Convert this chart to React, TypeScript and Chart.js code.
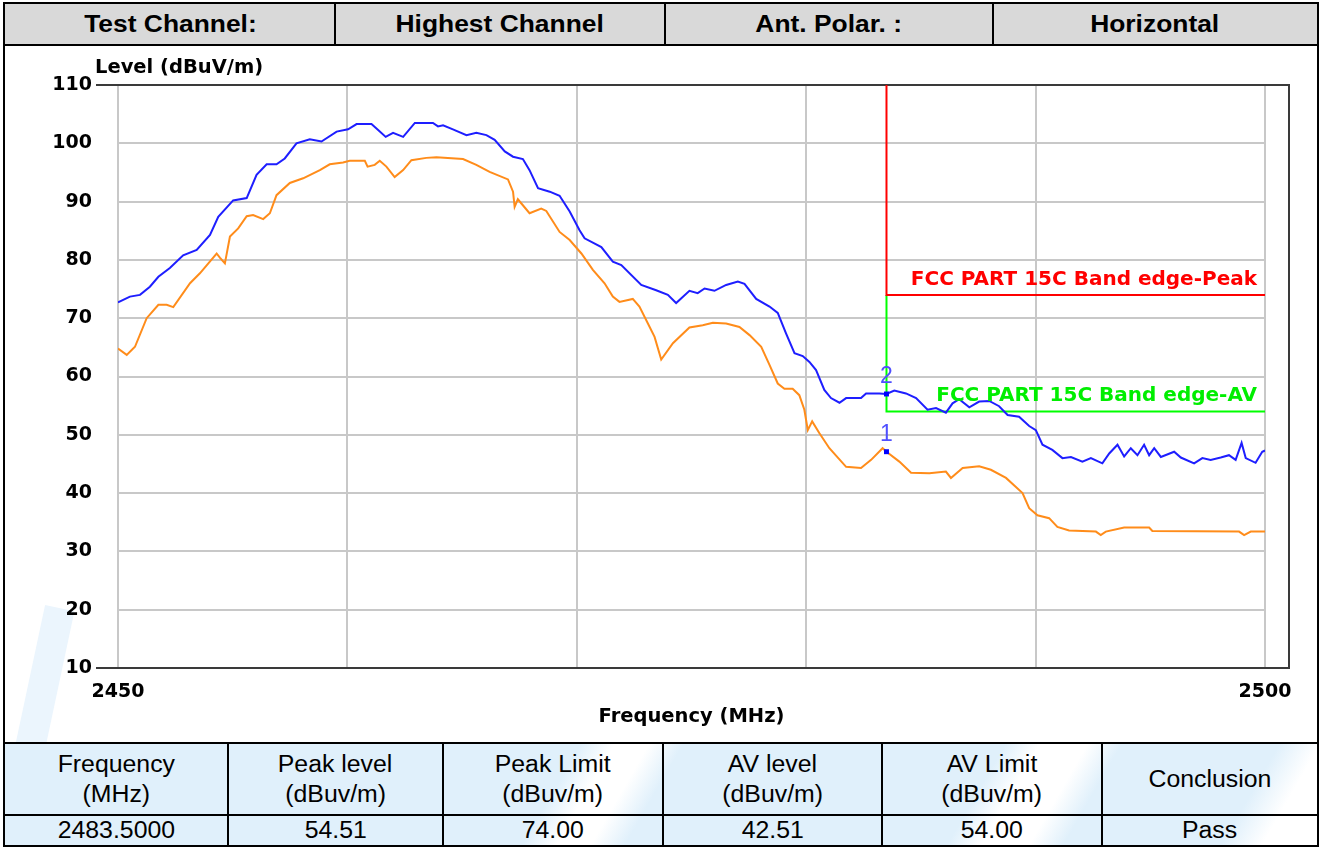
import React, { useEffect, useRef } from 'react';
import { Chart, registerables } from 'chart.js';

Chart.register(...registerables);

// ---------- header / result table ----------
const headerCells = ['Test Channel:', 'Highest Channel', 'Ant. Polar. :', 'Horizontal'];
const resultHeaders = [
  ['Frequency', '(MHz)'],
  ['Peak level', '(dBuv/m)'],
  ['Peak Limit', '(dBuv/m)'],
  ['AV level', '(dBuv/m)'],
  ['AV Limit', '(dBuv/m)'],
  ['Conclusion'],
];
const resultValues = ['2483.5000', '54.51', '74.00', '42.51', '54.00', 'Pass'];

// ---------- chart data ----------
const peakFreq = [
  2450.0, 2450.52, 2450.96, 2451.39, 2451.76, 2452.26, 2452.84, 2453.43, 2454.01, 2454.37,
  2455.02, 2455.61, 2456.04, 2456.48, 2456.91, 2457.27, 2457.78, 2458.36, 2458.87, 2459.53,
  2460.03, 2460.4, 2461.05, 2461.34, 2461.67, 2461.99, 2462.43, 2462.94, 2463.73, 2463.95,
  2464.17, 2464.6, 2465.19, 2465.62, 2466.06, 2466.42, 2466.86, 2467.22, 2467.65, 2467.94,
  2468.31, 2468.82, 2469.25, 2469.69, 2470.12, 2470.34, 2471.07, 2471.57, 2471.94, 2472.81,
  2473.46, 2473.97, 2474.33, 2474.91, 2475.27, 2475.57, 2476.0, 2476.51, 2477.02, 2477.31,
  2477.82, 2478.4, 2478.76, 2479.12, 2479.49, 2479.85, 2480.14, 2480.43, 2480.79, 2481.08,
  2481.45, 2481.74, 2482.39, 2482.61, 2483.19, 2483.5, 2483.84, 2484.35, 2484.79, 2485.29,
  2485.66, 2486.09, 2486.38, 2486.67, 2487.11, 2487.54, 2487.98, 2488.41, 2488.78, 2489.28,
  2489.72, 2490.01, 2490.3, 2490.73, 2491.17, 2491.54, 2492.04, 2492.41, 2492.91, 2493.21,
  2493.57, 2493.86, 2494.15, 2494.44, 2494.73, 2494.95, 2495.17, 2495.46, 2496.04, 2496.33,
  2496.91, 2497.27, 2497.63, 2498.07, 2498.43, 2498.72, 2498.98, 2499.16, 2499.59, 2499.88,
  2500.0,
];
const peakLevel = [
  72.7, 73.7, 74.0, 75.4, 77.1, 78.6, 80.8, 81.7, 84.3, 87.4,
  90.2, 90.6, 94.6, 96.4, 96.4, 97.4, 100.0, 100.7, 100.3, 102.0,
  102.4, 103.3, 103.3, 102.3, 101.1, 101.8, 101.1, 103.5, 103.5, 102.9,
  103.1, 102.4, 101.4, 101.8, 101.4, 100.6, 98.6, 97.7, 97.3, 95.4,
  92.3, 91.7, 91.0, 88.3, 85.1, 83.7, 82.2, 79.7, 79.1, 75.7,
  74.8, 74.0, 72.6, 74.7, 74.3, 75.1, 74.7, 75.7, 76.3, 75.9,
  73.3, 72.0, 70.9, 67.4, 64.0, 63.5, 62.5, 61.1, 57.7, 56.3,
  55.5, 56.3, 56.3, 57.1, 57.1, 57.0, 57.6, 57.1, 56.3, 54.3,
  54.6, 53.8, 55.4, 56.1, 54.7, 55.7, 55.8, 54.9, 53.4, 53.1,
  51.5, 50.8, 48.3, 47.4, 46.0, 46.2, 45.4, 46.0, 45.1, 46.8,
  48.3, 46.3, 47.7, 46.5, 48.3, 46.5, 47.7, 46.2, 47.1, 46.1,
  45.1, 46.0, 45.7, 46.1, 46.5, 45.7, 48.6, 46.0, 45.2, 47.1,
  47.3,
];

const avFreq = [
  2450.0, 2450.38, 2450.74, 2451.25, 2451.76, 2452.12, 2452.41, 2453.14, 2453.57, 2454.3,
  2454.44, 2454.66, 2454.88, 2455.24, 2455.61, 2455.89, 2456.33, 2456.62, 2456.91, 2457.49,
  2458.07, 2458.8, 2459.23, 2459.81, 2460.1, 2460.76, 2460.88, 2461.19, 2461.41, 2461.7,
  2462.06, 2462.43, 2462.79, 2463.44, 2463.88, 2465.04, 2465.62, 2466.2, 2467.0, 2467.22,
  2467.29, 2467.43, 2467.94, 2468.45, 2468.67, 2469.25, 2469.69, 2470.2, 2470.7, 2471.21,
  2471.57, 2471.86, 2472.44, 2472.73, 2473.1, 2473.39, 2473.68, 2474.19, 2474.91, 2475.49,
  2475.93, 2476.51, 2477.09, 2477.53, 2478.04, 2478.4, 2478.76, 2479.05, 2479.41, 2479.7,
  2479.92, 2480.07, 2480.26, 2480.57, 2481.01, 2481.74, 2482.39, 2482.83, 2483.33, 2483.5,
  2484.06, 2484.57, 2485.37, 2486.09, 2486.31, 2486.82, 2487.54, 2488.05, 2488.71, 2489.43,
  2489.72, 2490.08, 2490.59, 2490.95, 2491.46, 2492.63, 2492.84, 2493.06, 2493.86, 2494.95,
  2495.09, 2498.87, 2499.09, 2499.38, 2500.0,
];
const avLevel = [
  64.8, 63.7, 65.1, 70.0, 72.3, 72.3, 71.9, 76.0, 77.7, 81.1,
  80.4, 79.4, 84.0, 85.4, 87.5, 87.7, 87.0, 88.0, 91.1, 93.2,
  94.0, 95.4, 96.4, 96.7, 97.0, 97.0, 96.0, 96.3, 97.0, 96.0,
  94.2, 95.4, 97.1, 97.5, 97.6, 97.3, 96.3, 95.1, 93.8, 91.7,
  89.1, 90.4, 88.0, 88.8, 88.4, 84.8, 83.4, 81.1, 78.3, 76.0,
  73.7, 72.8, 73.3, 72.0, 69.1, 66.8, 62.9, 65.7, 68.4, 68.8,
  69.2, 69.1, 68.5, 67.1, 65.1, 62.0, 58.8, 57.9, 57.9, 56.8,
  54.3, 50.8, 52.3, 50.3, 47.7, 44.5, 44.3, 45.7, 47.7, 47.1,
  45.4, 43.5, 43.4, 43.7, 42.6, 44.3, 44.6, 44.0, 42.6, 40.0,
  37.4, 36.2, 35.7, 34.2, 33.6, 33.4, 32.8, 33.4, 34.1, 34.1,
  33.5, 33.4, 32.8, 33.4, 33.4,
];

const peakLimitFreq = [2483.5, 2483.5, 2500];
const peakLimitLevel = [110, 74, 74];
const avLimitFreq = [2483.5, 2483.5, 2500];
const avLimitLevel = [74, 54, 54];
const limitLabels = ['FCC PART 15C Band edge-Peak', 'FCC PART 15C Band edge-AV'];

const markerFreq = [2483.5, 2483.5];
const markerLevel = [47.1, 57.0];
const markerLabels = ['1', '2'];

const xLabelled = [2450, 2500];
const yTitle = 'Level (dBuV/m)';
const xTitle = 'Frequency (MHz)';

const CHART_FONT = '"DejaVu Sans", sans-serif';
const TABLE_FONT = '"Liberation Sans", Arial, sans-serif';

function zip(xs: number[], ys: number[]) {
  return xs.map((x, i) => ({ x, y: ys[i] }));
}

const HEADER_BOUNDS = [0, 330, 660, 988, 1312];
const RESULT_BOUNDS = [0, 223, 438, 658, 877, 1097, 1312];

export default function App() {
  const canvasRef = useRef<HTMLCanvasElement>(null);

  useEffect(() => {
    document.body.style.margin = '0';
    const canvas = canvasRef.current;
    if (!canvas) return;

    const overlay = {
      id: 'overlay',
      beforeDatasetsDraw(chart: any) {
        const { ctx, chartArea: a } = chart;
        ctx.save();
        ctx.strokeStyle = '#3a3a3a';
        ctx.lineWidth = 2;
        ctx.beginPath();
        ctx.moveTo(a.left - 22, a.top);
        ctx.lineTo(a.right + 24, a.top);
        ctx.lineTo(a.right + 24, a.bottom);
        ctx.lineTo(a.left - 22, a.bottom);
        ctx.stroke();
        ctx.restore();
      },
      afterDatasetsDraw(chart: any) {
        const { ctx, chartArea: a, scales } = chart;
        const xs = scales.x;
        const ys = scales.y;
        ctx.save();
        // y-axis title
        ctx.font = `bold 19.5px ${CHART_FONT}`;
        ctx.fillStyle = '#000';
        ctx.textAlign = 'left';
        ctx.textBaseline = 'middle';
        ctx.fillText(yTitle, a.left - 23, a.top - 17);

        // limit labels
        ctx.font = `bold 20px ${CHART_FONT}`;
        ctx.textAlign = 'right';
        ctx.fillStyle = '#ff0000';
        ctx.fillText(limitLabels[0], xs.getPixelForValue(2500) - 8, ys.getPixelForValue(peakLimitLevel[2]) - 15);
        ctx.fillStyle = '#00ee00';
        ctx.fillText(limitLabels[1], xs.getPixelForValue(2500) - 8, ys.getPixelForValue(avLimitLevel[2]) - 16);

        // marker labels
        ctx.font = `23px ${TABLE_FONT}`;
        ctx.textAlign = 'center';
        ctx.fillStyle = '#4f4fff';
        markerLabels.forEach((lab, i) => {
          const px = xs.getPixelForValue(markerFreq[i]);
          const py = ys.getPixelForValue(markerLevel[i]);
          ctx.fillText(lab, px, py - 17);
        });
        ctx.restore();
      },
    };

    const tickFont = { family: CHART_FONT, weight: 'bold' as const, size: 19 };

    const chart = new Chart(canvas, {
      type: 'line',
      data: {
        datasets: [
          {
            label: 'Markers',
            data: zip(markerFreq, markerLevel),
            showLine: false,
            pointStyle: 'rect',
            pointRadius: 3.5,
            pointBackgroundColor: '#0000ff',
            pointBorderColor: '#0000ff',
            pointBorderWidth: 0,
          },
          {
            label: 'Peak',
            data: zip(peakFreq, peakLevel),
            borderColor: '#1e1eff',
            borderWidth: 2,
            pointRadius: 0,
            tension: 0,
          },
          {
            label: 'AV',
            data: zip(avFreq, avLevel),
            borderColor: '#ff8c1a',
            borderWidth: 2,
            pointRadius: 0,
            tension: 0,
          },
          {
            label: 'Peak limit',
            data: zip(peakLimitFreq, peakLimitLevel),
            borderColor: '#ff0000',
            borderWidth: 2,
            pointRadius: 0,
            tension: 0,
          },
          {
            label: 'AV limit',
            data: zip(avLimitFreq, avLimitLevel),
            borderColor: '#00ff00',
            borderWidth: 2,
            pointRadius: 0,
            tension: 0,
          },
        ],
      },
      options: {
        animation: false,
        responsive: false,
        maintainAspectRatio: false,
        devicePixelRatio: 1,
        layout: { padding: { top: 39, right: 52, left: 0, bottom: 0 } },
        plugins: {
          legend: { display: false },
          tooltip: { enabled: false },
        },
        scales: {
          x: {
            type: 'linear',
            min: 2450,
            max: 2500,
            ticks: {
              stepSize: 10,
              autoSkip: false,
              maxRotation: 0,
              padding: 13,
              color: '#000',
              font: tickFont,
              callback: (v: any) => (xLabelled.includes(Number(v)) ? String(v) : ''),
            },
            grid: { color: '#c8c8c8', lineWidth: 2, drawTicks: false },
            border: { display: false },
            title: {
              display: true,
              text: xTitle,
              color: '#000',
              font: { family: CHART_FONT, weight: 'bold', size: 19.5 },
              padding: { top: 0, bottom: 13 },
            },
            afterFit: (s: any) => {
              s.height = 74;
            },
          },
          y: {
            type: 'linear',
            min: 10,
            max: 110,
            ticks: {
              stepSize: 10,
              padding: 26,
              color: '#000',
              font: tickFont,
            },
            grid: { color: '#c8c8c8', lineWidth: 2, drawTicks: false },
            border: { display: false },
            afterFit: (s: any) => {
              s.width = 113;
            },
          },
        },
      } as any,
      plugins: [overlay],
    });

    return () => chart.destroy();
  }, []);

  const vline = (x: number, top: number, height: number, key: string) => (
    <div key={key} style={{ position: 'absolute', left: x - 1, top, width: 2, height, background: '#000' }} />
  );
  const hline = (top: number) => (
    <div style={{ position: 'absolute', left: 0, top, width: 1312, height: 2, background: '#000' }} />
  );
  const stretch = (txt: React.ReactNode, sx: number) => (
    <span style={{ display: 'inline-block', transform: `scaleX(${sx})`, whiteSpace: 'nowrap' }}>{txt}</span>
  );

  return (
    <div style={{ position: 'relative', width: 1322, height: 848, background: '#fff', overflow: 'hidden' }}>
      <div
        style={{
          position: 'absolute',
          left: 3,
          top: 2,
          width: 1316,
          height: 845,
          border: '2px solid #000',
          boxSizing: 'border-box',
        }}
      />
      <div style={{ position: 'absolute', left: 5, top: 4, width: 1312, height: 841 }}>
        {/* header */}
        <div style={{ position: 'absolute', left: 0, top: 0, width: 1312, height: 40, background: '#d9d9d9' }} />
        {headerCells.map((t, i) => (
          <div
            key={'h' + i}
            style={{
              position: 'absolute',
              left: HEADER_BOUNDS[i],
              top: 0,
              width: HEADER_BOUNDS[i + 1] - HEADER_BOUNDS[i],
              height: 40,
              display: 'flex',
              alignItems: 'center',
              justifyContent: 'center',
              fontFamily: TABLE_FONT,
              fontWeight: 'bold',
              fontSize: 24,
              color: '#000',
            }}
          >
            {stretch(t, 1.1)}
          </div>
        ))}
        {HEADER_BOUNDS.slice(1, -1).map((x, i) => vline(x, 0, 40, 'hv' + i))}
        {hline(40)}

        {/* chart */}
        <div style={{ position: 'absolute', left: 0, top: 42, width: 1312, height: 696, overflow: 'hidden' }}>
          <div
            style={{
              position: 'absolute',
              left: 20,
              top: 560,
              width: 30,
              height: 190,
              background: '#ebf5fd',
              transform: 'rotate(12deg)',
            }}
          />
          <canvas
            ref={canvasRef}
            width={1312}
            height={696}
            style={{ position: 'absolute', left: 0, top: 0, width: 1312, height: 696 }}
          />
        </div>
        {hline(738)}

        {/* results */}
        <div
          style={{
            position: 'absolute',
            left: 0,
            top: 740,
            width: 1312,
            height: 101,
            background:
              'linear-gradient(120deg, #e0f0fb 0%, #e0f0fb 42%, #ffffff 44.5%, #ffffff 47%, #e0f0fb 49.5%, #e0f0fb 73%, #ffffff 75.5%, #ffffff 79%, #e0f0fb 81.5%, #e0f0fb 93%, #ffffff 96%)',
          }}
        />
        {resultHeaders.map((lines, i) => (
          <div
            key={'r' + i}
            style={{
              position: 'absolute',
              left: RESULT_BOUNDS[i],
              top: 740,
              width: RESULT_BOUNDS[i + 1] - RESULT_BOUNDS[i],
              height: 70,
              display: 'flex',
              flexDirection: 'column',
              alignItems: 'center',
              justifyContent: 'center',
              fontFamily: TABLE_FONT,
              fontSize: 23,
              lineHeight: '30px',
              color: '#000',
            }}
          >
            {lines.map((l, j) => (
              <div key={j}>{stretch(l, 1.08)}</div>
            ))}
          </div>
        ))}
        {hline(810)}
        {resultValues.map((v, i) => (
          <div
            key={'v' + i}
            style={{
              position: 'absolute',
              left: RESULT_BOUNDS[i],
              top: 812,
              width: RESULT_BOUNDS[i + 1] - RESULT_BOUNDS[i],
              height: 29,
              display: 'flex',
              alignItems: 'center',
              justifyContent: 'center',
              fontFamily: TABLE_FONT,
              fontSize: 23,
              color: '#000',
            }}
          >
            {stretch(v, 1.08)}
          </div>
        ))}
        {RESULT_BOUNDS.slice(1, -1).map((x, i) => vline(x, 740, 101, 'rv' + i))}
      </div>
    </div>
  );
}
